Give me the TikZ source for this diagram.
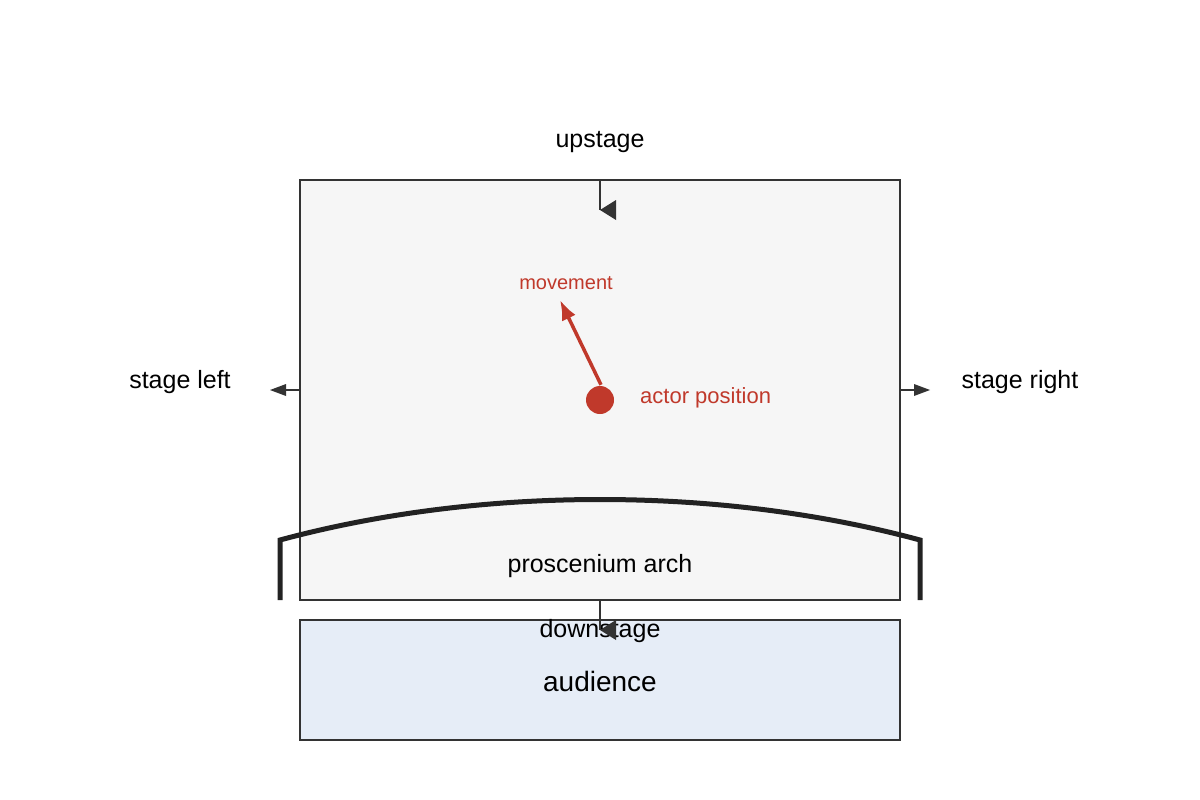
\documentclass[tikz,border=0pt]{standalone}
\usepackage{fontspec}
\setmainfont{Liberation Sans}
\usetikzlibrary{arrows.meta}
\begin{document}
\begin{tikzpicture}[x=1pt,y=-1pt,
  lbl/.style={font=\fontsize{25}{29}\selectfont,text=black,inner sep=0},
  red/.style={text={rgb,255:red,192;green,57;blue,43},inner sep=0},
  conn/.style={draw={rgb,255:red,51;green,51;blue,51},line width=1.5pt}]
\definecolor{rd}{RGB}{192,57,43}
\definecolor{dk}{RGB}{51,51,51}
\useasboundingbox (0,0) rectangle (1200,800);
\node[draw=dk,line width=2.5pt,fill={rgb,255:red,246;green,246;blue,246},minimum width=600pt,minimum height=420pt,inner sep=0] (stage) at (600,390) {};
\node[draw=dk,line width=1.5pt,fill={rgb,255:red,230;green,237;blue,247},minimum width=600pt,minimum height=120pt,inner sep=0] (aud) at (600,680) {};
\node[lbl,font=\fontsize{28}{32}\selectfont] (audt) at (600,681) {audience};
\node[lbl] (up) at (600,142) {upstage};
\node[lbl] (sl) at (180,382) {stage left};
\node[lbl] (sr) at (1020,382) {stage right};
\node[lbl] (pa) at (600,566) {proscenium arch};
\node[lbl] (ds) at (600,631) {downstage};
% arch
\draw[line width=5pt,draw={rgb,255:red,34;green,34;blue,34}] (280,600) -- (280,540) .. controls (480,486) and (720,486) .. (920,540) -- (920,600);
% connectors
\coordinate (uA) at (600,180); \coordinate (uB) at (600,210);
\draw[conn] (uA) -- (uB);
\fill[dk] (uB) -- (616,200) -- (616,220) -- cycle;
\coordinate (dA) at (600,600); \coordinate (dB) at (600,630);
\draw[conn] (dA) -- (dB);
\fill[dk] (dB) -- (616,620) -- (616,640) -- cycle;
\coordinate (lA) at (300,390); \coordinate (lB) at (270,390);
\draw[conn] (lA) -- (284,390);
\fill[dk] (lB) -- (286,384) -- (286,396) -- cycle;
\coordinate (rA) at (900,390); \coordinate (rB) at (930,390);
\draw[conn] (rA) -- (916,390);
\fill[dk] (rB) -- (914,384) -- (914,396) -- cycle;
% actor
\node[circle,fill=rd,minimum size=28pt,inner sep=0] (actor) at (600,400) {};
\node[red,font=\fontsize{22}{26}\selectfont,anchor=west] (at) at (640,398) {actor position};
\node[red,font=\fontsize{20}{24}\selectfont] (mv) at (566,283) {movement};
\coordinate (mE) at (560,300);
\draw[rd,line width=3.5pt,-{Latex[length=20pt,width=15pt]}] (actor.north) ++(1,-1) -- (mE);
\end{tikzpicture}
\end{document}
